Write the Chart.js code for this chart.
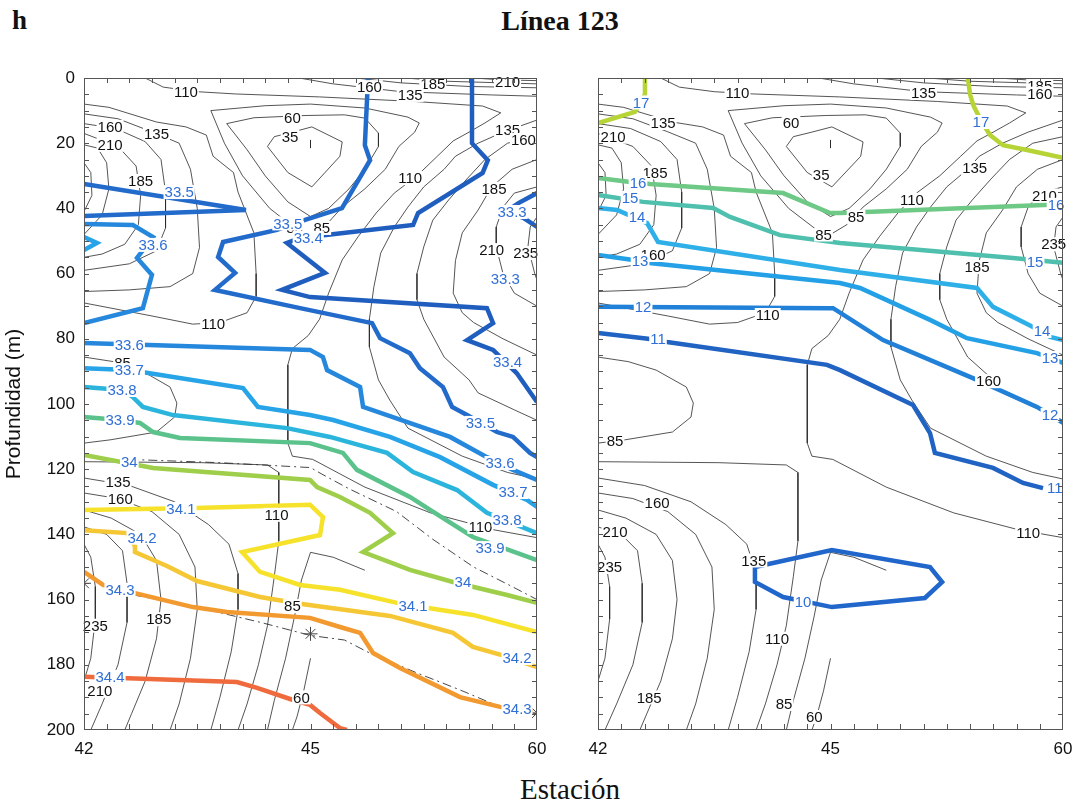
<!DOCTYPE html>
<html>
<head>
<meta charset="utf-8">
<script src="https://cdn.jsdelivr.net/npm/chart.js@4.4.1/dist/chart.umd.min.js"></script>
<style>
  body { margin: 0; background: #fff; width: 1078px; height: 808px; position: relative; overflow: hidden; }
  #panelL { position: absolute; left: 0; top: 60px; }
  #panelR { position: absolute; left: 560px; top: 60px; }
  .hd { position: absolute; font-family: "Liberation Serif", "DejaVu Serif", serif; color: #111; white-space: nowrap; }
</style>
</head>
<body>
<div class="hd" style="left:12px; top:5px; font-size:27px; font-weight:bold;">h</div>
<div class="hd" style="left:0; width:1120px; text-align:center; top:5px; font-size:28px; font-weight:bold;">Línea 123</div>
<div class="hd" style="left:0; width:1140px; text-align:center; top:773px; font-size:29px;">Estación</div>
<canvas id="panelL" width="550" height="710"></canvas>
<canvas id="panelR" width="518" height="710"></canvas>
<script>
// -----------------------------
// AXES (x = station index, y = depth in m)
// -----------------------------
const stations = ["42", "45", "60"];
const depthRange = [0, 200];

// -----------------------------
// SALINITY CONTOURS (left panel)  [station index, depth]
// -----------------------------
const sal333 = [[2,35.3],[1.92,38.3],[1.86,41.1],[1.94,42.9],[2,45.7],[1.75,58.9],[1.735,59.8],[1.85,61.3],[2,64.4]];
const sal334 = [[1.713,0],[1.713,20],[1.783,25.2],[1.76,29.1],[1.475,41.4],[1.453,45.1],[0.954,49.1],[0.896,50.6],[1.064,59.8],[0.874,65],[0.998,67.2],[1.779,70.6],[1.806,75.2],[1.691,80.4],[1.806,83.4],[1.91,90.5],[2,99.4]];
const sal335a = [[0,32.5],[0.715,40.5],[0,42.3]];
const sal335b = [[1.254,0],[1.24,20.6],[1.263,25.2],[1.139,39.9],[0.945,44.2],[0.852,46.6],[0.614,50.3],[0.592,54.9],[0.667,59.8],[0.578,65],[0.954,70.6],[1.272,75.2],[1.307,79.8],[1.439,84.4],[1.483,89],[1.585,94.8],[1.625,100.9],[1.691,103.4],[1.823,108.6],[1.894,110.1],[1.969,115],[2,116.3]];
const sal336a = [[0,44.8],[0.216,45.1],[0.305,48.8],[0.234,55.2],[0.3,60.4],[0.26,70.6],[0,75.2]];
const sal336b = [[0,81.3],[0.998,83.4],[1.055,85.6],[1.073,89.6],[1.219,94.8],[1.232,100.9],[1.616,110.1],[1.779,116.3],[1.894,120.2],[2,123.3]];
const sal337a = [[0,48.8],[0.057,50.6],[0,52.8]];
const sal337b = [[0,89],[0.2,89.6],[0.702,95.1],[0.768,100.9],[0.998,103.4],[1.1,104.9],[1.351,110.1],[1.572,116.3],[1.806,124.8],[1.956,129.4],[2,131.6]];
const sal338 = [[0,94.8],[0.168,95.7],[0.216,97.9],[0.26,100.9],[0.393,103.4],[0.896,107.4],[1.086,110.1],[1.338,115],[1.453,120.9],[1.647,126.4],[1.779,133.4],[2,139.6]];
const sal339 = [[0,104],[0.159,104.9],[0.247,105.8],[0.305,108.6],[0.424,110.4],[0.998,112],[1.143,115],[1.205,120.2],[1.439,128.5],[1.528,132.5],[1.717,140.8],[2,147.9]];
const sal340 = [[0,115.6],[0.305,119.6],[0.998,123.3],[1.029,125.5],[1.13,128.5],[1.263,133.4],[1.364,139.6],[1.232,145.4],[1.439,150.9],[1.629,154.6],[1.868,158.6],[2,161]];
const sal341 = [[0,132.5],[0.494,131.9],[0.998,130.9],[1.055,134.7],[1.042,140.2],[0.698,145.4],[0.777,151.5],[0.954,155.5],[1.13,157],[1.382,161],[1.519,162.6],[1.718,164.7],[2,170]];
const sal342 = [[0,138.7],[0.19,139.6],[0.225,143.6],[0.225,145.4],[0.366,149.7],[0.499,154.3],[0.777,159.2],[0.954,161.3],[1.351,165],[1.629,170.2],[1.717,174.5],[1.837,176.9],[2,180.7]];
const sal343 = [[0,151.5],[0.084,155.5],[0.225,158],[0.481,162.3],[0.631,163.8],[0.998,165.6],[1.13,168.4],[1.219,170.2],[1.276,176.4],[1.395,181],[1.66,189.9],[1.837,192.9],[1.982,194.5]];
const sal344 = [[0,183.7],[0.675,185.3],[0.764,187.1],[0.923,190.8],[0.998,192.3],[1.042,194.8],[1.13,199.4],[1.161,200]];

// -----------------------------
// TEMPERATURE CONTOURS (right panel)
// -----------------------------
const tmp17a = [[0.202,0],[0.202,5],[0.18,8],[0.159,10.4],[0,13.8]];
const tmp17b = [[1.591,0],[1.6,5],[1.615,8.5],[1.647,13],[1.686,17.5],[1.742,20.6],[1.845,22.1],[2,24.5]];
const tmp16 = [[0,30.7],[0.138,31.9],[0.224,32.5],[0.796,35.3],[0.998,41.4],[1.041,41.4],[2,38.7]];
const tmp15 = [[0,35.9],[0.194,38],[0.495,39.9],[0.568,42.6],[0.783,48.2],[1.041,50.6],[1.785,55.2],[2,56.7]];
const tmp14 = [[0,39.9],[0.082,40.5],[0.211,44.5],[0.258,50.3],[1.041,58.9],[1.63,64.4],[1.699,70.2],[1.871,76.4],[1.944,79.4],[2,80.4]];
const tmp13 = [[0,54.3],[0.151,55.8],[0.211,56.7],[1.041,62.9],[1.127,64.4],[1.428,74.2],[1.587,79.8],[1.888,84.4],[2,87.4]];
const tmp12 = [[0,70.2],[0.998,70.6],[1.011,70.6],[1.226,80.4],[1.63,92.6],[1.888,100.9],[2,105.8]];
const tmp11 = [[0,78.2],[0.215,80],[0.297,81],[0.985,88],[1.041,89.6],[1.355,100.3],[1.428,108.9],[1.449,115],[1.699,119.6],[1.828,124.2],[1.914,125.8]];
const tmp10 = [[0.675,150],[1.006,144.8],[1.428,150],[1.48,154.6],[1.406,159.5],[1.006,162.3],[0.796,159.2],[0.675,154.6],[0.675,150]];

// -----------------------------
// THIN BLACK CONTOURS (same field in both panels)
// -----------------------------
const iso110top = [[0.27,0],[0.35,2.8],[0.5,4.2],[0.67,4.9],[1.04,5.8],[1.46,7.2],[1.76,8.6],[1.84,10.7],[1.77,13.8],[1.7,16.6],[1.63,19.3],[1.56,24],[1.47,30],[1.37,35.3],[1.29,41.4],[1.21,48.7],[1.14,55.8],[1.08,66],[1.04,74],[0.99,79],[0.92,83],[0.9,88],[0.9,112],[0.92,116],[1.01,117],[1.24,125.5],[1.53,133.4],[1.81,138.6],[2,141]];
const iso135top = [[0.95,0],[1.1,1.8],[1.4,4.2],[1.8,5.2],[2,5.6]];
const iso160top = [[1.2,0],[1.4,1.5],[1.7,2.6],[2,3]];
const iso185top = [[1.42,0],[1.6,1],[2,1.8]];
const iso210top = [[1.72,0],[1.85,0.6],[2,0.8]];
const iso110w = [[0,8],[0.11,9],[0.32,13.5],[0.45,15],[0.54,17.5],[0.57,24],[0.66,29],[0.68,35],[0.75,47.5],[0.76,60],[0.76,67],[0.72,72],[0.6,75],[0.48,75.5],[0.3,73],[0.15,71],[0,69]];
const iso135w = [[0,11],[0.15,12.5],[0.3,16.5],[0.42,20],[0.47,28],[0.5,40],[0.51,52],[0.48,60],[0.38,64],[0.2,65],[0,65.5]];
const iso160w = [[0,14],[0.14,15.5],[0.27,19.5],[0.34,25],[0.36,35],[0.36,46],[0.32,53],[0.2,57],[0,59]];
const iso185w = [[0,17],[0.15,21],[0.23,27],[0.25,36],[0.24,45],[0.18,51],[0.08,54],[0,55]];
const iso210w = [[0,20.5],[0.06,21.5],[0.1,26],[0.11,34],[0.08,42],[0,48]];
const iso235w = [[0,26],[0.03,29],[0.035,36],[0,41]];
const iso35 = [[0.84,18],[0.92,16.6],[1.006,15],[1.14,19.6],[1.13,24],[1.006,33.4],[0.9,29],[0.81,21],[0.84,18]];
const iso35core = [[1.0,19],[1.0,21.5]];
const iso60 = [[0.63,14],[0.75,12.2],[0.98,11.5],[1.15,11.3],[1.24,12.3],[1.3,16.9],[1.3,21],[1.24,28],[1.17,34],[1.08,40],[1.0,42.5],[0.9,38],[0.8,30],[0.72,22],[0.63,14]];
const iso85 = [[0.56,10],[0.8,8.5],[1.0,8],[1.24,9.2],[1.43,12],[1.48,13.8],[1.46,16.6],[1.39,21],[1.33,28],[1.24,34],[1.14,39.6],[1.07,45],[1.0,48],[0.93,46],[0.82,40],[0.7,30],[0.62,20],[0.56,10]];
const iso135e = [[2,12.9],[1.85,16.6],[1.74,20],[1.64,24],[1.59,28],[1.5,33.4],[1.43,39.6],[1.37,45.7],[1.31,53.7],[1.28,64],[1.26,74],[1.26,82.5],[1.3,92.6],[1.35,98.8],[1.43,107.4],[1.67,116],[1.87,121],[2,123]];
const iso160e = [[2,18],[1.87,20],[1.77,25],[1.69,31],[1.61,37.4],[1.54,43.6],[1.5,51.8],[1.47,60],[1.47,68],[1.5,74],[1.59,85.6],[1.7,92.6],[1.74,96.6],[1.9,101.8],[2,105]];
const iso185e = [[2,25],[1.89,28],[1.8,33.4],[1.74,40.5],[1.67,47.5],[1.64,56],[1.63,66],[1.67,72],[1.72,75],[1.85,80],[2,85]];
const iso210e = [[2,33.4],[1.9,35.3],[1.85,39.6],[1.82,45.7],[1.82,51.8],[1.85,60],[1.9,66],[2,70]];
const iso235e = [[2,42.6],[1.97,45.7],[1.96,51.8],[1.99,60],[2,62]];
const iso85mid = [[0,85.6],[0.13,87],[0.25,89.6],[0.38,94.8],[0.41,99.7],[0.4,104],[0.32,108.6],[0.115,111],[0,112]];
const iso110b = [[0,117.7],[0.52,118],[0.81,118.7],[0.86,121],[0.86,142],[0.84,153],[0.81,168],[0.77,180],[0.72,192],[0.68,200]];
const iso135b = [[0,122.7],[0.2,125],[0.4,130],[0.55,137],[0.64,143],[0.68,152],[0.68,163],[0.65,176],[0.6,190],[0.56,200]];
const iso160b = [[0,127.3],[0.15,129],[0.3,133],[0.42,140],[0.49,150],[0.5,163],[0.47,178],[0.42,192],[0.38,200]];
const iso185b = [[0,132.5],[0.12,135],[0.25,140],[0.32,148],[0.34,160],[0.32,172],[0.27,185],[0.21,195],[0.18,200]];
const iso210b = [[0,137.7],[0.1,140],[0.17,145],[0.19,155],[0.19,167],[0.15,180],[0.08,192],[0.03,200]];
const iso235b = [[0,143],[0.03,147],[0.05,156],[0.05,166],[0.03,178],[0,185]];
const iso85b = [[1.24,151],[1.1,147],[1.0,145.5],[0.96,154],[0.93,165],[0.89,178],[0.84,191],[0.81,200]];
const iso60b = [[1.0,178],[0.97,188],[0.94,196],[0.92,200]];

// dash-dot lines and stars (left panel only)
const dashA = [[0.2,117],[0.6,118],[1.0,119.5],[1.05,121.5],[1.17,126],[1.38,133],[1.54,141.5],[1.72,150],[1.89,156],[2,160]];
const dashB = [[0.22,158.6],[0.48,162],[0.78,167],[1.0,171],[1.15,172.4],[1.25,176],[1.47,182.5],[1.66,187.7],[1.84,193],[2,195]];
const starPoints = [[0,155],[1.0,170.5],[2,194.8]];

// -----------------------------
// CONTOUR LABELS  [station index, depth, text]
// -----------------------------
const salLabels = [[0.42,35,"33.5"],[0.9,44.6,"33.5"],[0.99,49,"33.4"],[1.89,41.1,"33.3"],[1.86,61.7,"33.3"],[0.305,51.2,"33.6"],[1.87,87.1,"33.4"],
  [0.2,81.9,"33.6"],[0.2,89.6,"33.7"],[0.168,95.7,"33.8"],[0.159,104.9,"33.9"],[1.75,105.8,"33.5"],[1.837,118.1,"33.6"],[1.894,127,"33.7"],
  [1.868,135.6,"33.8"],[1.793,144.2,"33.9"],[0.2,117.8,"34"],[1.673,154.6,"34"],[0.428,132.2,"34.1"],[1.453,161.9,"34.1"],[0.256,141,"34.2"],
  [1.912,177.9,"34.2"],[0.159,157,"34.3"],[1.912,193.6,"34.3"],[0.115,183.7,"34.4"]];
const tmpLabels = [[0.185,7.5,"17"],[1.647,13.5,"17"],[0.172,32.2,"16"],[1.97,38.9,"16"],[0.138,36.8,"15"],[1.88,56.4,"15"],[0.168,42.6,"14"],
  [1.91,77.6,"14"],[0.181,56.1,"13"],[1.944,85.9,"13"],[0.194,70.2,"12"],[1.944,103.4,"12"],[0.258,80.1,"11"],[1.965,125.8,"11"],[0.882,160.7,"10"]];
const isoLabelsLeft = [[0.45,4.3,"110"],[1.26,2.8,"160"],[1.54,1.8,"185"],[1.44,5.2,"135"],[1.87,1.2,"210"],[0.92,12.3,"60"],[0.91,18.1,"35"],
  [0.115,15,"160"],[0.32,17,"135"],[0.115,20.5,"210"],[0.25,31.6,"185"],[1.87,16,"135"],[1.94,19,"160"],[1.44,30.7,"110"],[1.81,34,"185"],
  [0.93,46,"85"],[1.05,46,"85"],[1.8,52.8,"210"],[1.95,53.7,"235"],[0.57,75.3,"110"],[0.17,87.4,"85"],[0.15,124,"135"],[0.16,129,"160"],
  [0.85,134,"110"],[1.75,137.7,"110"],[0.05,168,"235"],[0.33,166,"185"],[0.92,162,"85"],[0.07,188,"210"],[0.96,190,"60"]];
const isoLabelsRight = [[0.6,4.6,"110"],[1.4,4.6,"135"],[1.9,2.3,"185"],[1.9,4.8,"160"],[0.83,13.8,"60"],[0.96,29.8,"35"],[0.28,13.8,"135"],
  [0.065,18,"210"],[0.245,29,"185"],[0.97,48,"85"],[1.11,42.6,"85"],[1.35,37.4,"110"],[1.62,27.6,"135"],[1.92,36,"210"],[1.96,51,"235"],
  [1.63,58,"185"],[0.237,54.3,"160"],[0.73,72.7,"110"],[1.68,93,"160"],[0.073,111.3,"85"],[0.254,130.4,"160"],[0.073,139.3,"210"],
  [1.85,139.6,"110"],[0.05,150,"235"],[0.67,148,"135"],[0.77,172,"110"],[0.22,190,"185"],[0.8,192,"85"],[0.93,196,"60"]];

// -----------------------------
// STYLES
// -----------------------------
const levelColors = {
  "33.3": "#2062c4", "33.4": "#1f5ebf", "33.5": "#226bcb", "33.6": "#2588dc", "33.7": "#27a3e8", "33.8": "#2cb5dc",
  "33.9": "#5bc28c", "34": "#9fce4a", "34.1": "#f7e22b", "34.2": "#f6c735", "34.3": "#f29a2f", "34.4": "#ef6b3d",
  "17": "#b7d436", "16": "#6dc985", "15": "#4fc0ae", "14": "#2fafe8", "13": "#24a0e6", "12": "#2180d7", "11": "#2063c2", "10": "#2166ca"
};
const labelBlue = "#2f6fd6";
const sansFont = '"Liberation Sans", Arial, sans-serif';

const salLines = [["33.3", sal333], ["33.4", sal334], ["33.5", sal335a], ["33.5", sal335b], ["33.6", sal336a], ["33.6", sal336b],
  ["33.7", sal337a], ["33.7", sal337b], ["33.8", sal338], ["33.9", sal339], ["34", sal340], ["34.1", sal341],
  ["34.2", sal342], ["34.3", sal343], ["34.4", sal344]];
const tmpLines = [["17", tmp17a], ["17", tmp17b], ["16", tmp16], ["15", tmp15], ["14", tmp14], ["13", tmp13],
  ["12", tmp12], ["11", tmp11], ["10", tmp10]];
const isoLines = [iso110top, iso135top, iso160top, iso185top, iso210top, iso110w, iso135w, iso160w, iso185w, iso210w, iso235w,
  iso35, iso35core, iso60, iso85, iso135e, iso160e, iso185e, iso210e, iso235e, iso85mid, iso110b, iso135b, iso160b,
  iso185b, iso210b, iso235b, iso85b, iso60b];

// -----------------------------
// HELPERS
// -----------------------------
function toXY(pts) {
  return pts.map(p => ({ x: p[0], y: p[1] }));
}

function lineSet(pts, color, width, order, dash) {
  return {
    type: "line",
    data: toXY(pts),
    borderColor: color,
    borderWidth: width,
    borderDash: dash || [],
    pointRadius: 0,
    fill: false,
    tension: 0,
    order: order,
    parsing: false
  };
}

function buildDatasets(colored, withExtras) {
  const sets = [];
  isoLines.forEach(pts => sets.push(lineSet(pts, "#2a2a2a", 0.8, 3)));
  if (withExtras) {
    sets.push(lineSet(dashA, "#333", 0.9, 3, [9, 4, 2, 4]));
    sets.push(lineSet(dashB, "#333", 0.9, 3, [9, 4, 2, 4]));
  }
  colored.forEach(([lvl, pts]) => sets.push(lineSet(pts, levelColors[lvl], 4.5, 1)));
  if (withExtras) {
    sets.push({
      type: "scatter",
      data: toXY(starPoints),
      pointStyle: "star",
      pointRadius: 7,
      borderColor: "#444",
      borderWidth: 1,
      backgroundColor: "transparent",
      order: 0
    });
  }
  return sets;
}

// labels (white box breaks the line) + frame with inward ticks
const contourDecor = {
  id: "contourDecor",
  afterDatasetsDraw(chart, args, opts) {
    const ctx = chart.ctx;
    const xs = chart.scales.x, ys = chart.scales.y;
    ctx.save();
    ctx.font = "15px " + sansFont;
    ctx.textAlign = "center";
    ctx.textBaseline = "middle";
    opts.groups.forEach(g => {
      g.items.forEach(([u, d, t]) => {
        const px = xs.getPixelForValue(u), py = ys.getPixelForValue(d);
        const w = ctx.measureText(t).width;
        ctx.fillStyle = "#fff";
        ctx.fillRect(px - w / 2 - 1, py - 7, w + 2, 14);
        ctx.fillStyle = g.color;
        ctx.fillText(t, px, py + 1);
      });
    });
    ctx.restore();
  },
  afterDraw(chart) {
    const ctx = chart.ctx;
    const a = chart.chartArea;
    const xs = chart.scales.x, ys = chart.scales.y;
    ctx.save();
    ctx.strokeStyle = "#555";
    ctx.lineWidth = 1;
    ctx.strokeRect(a.left + 0.5, a.top + 0.5, a.right - a.left - 1, a.bottom - a.top - 1);
    ctx.beginPath();
    for (let i = 1; i < 20; i++) {
      const px = Math.round(xs.getPixelForValue(i / 10)) + 0.5;
      ctx.moveTo(px, a.bottom); ctx.lineTo(px, a.bottom - 6);
      ctx.moveTo(px, a.top); ctx.lineTo(px, a.top + 5);
    }
    for (let d = 5; d < 200; d += 5) {
      const py = Math.round(ys.getPixelForValue(d)) + 0.5;
      ctx.moveTo(a.left, py); ctx.lineTo(a.left + 5, py);
      ctx.moveTo(a.right, py); ctx.lineTo(a.right - 5, py);
    }
    ctx.stroke();
    ctx.restore();
  }
};

function makeChart(canvasId, colored, labelGroups, isLeft) {
  return new Chart(document.getElementById(canvasId), {
    type: "scatter",
    data: { datasets: buildDatasets(colored, isLeft) },
    plugins: [contourDecor],
    options: {
      responsive: false,
      animation: false,
      events: [],
      layout: { padding: { top: 18, right: isLeft ? 13 : 15, bottom: 0, left: 0 } },
      plugins: {
        legend: { display: false },
        tooltip: { enabled: false },
        contourDecor: { groups: labelGroups }
      },
      scales: {
        x: {
          type: "linear",
          min: 0,
          max: stations.length - 1,
          grid: { display: false, drawTicks: false },
          border: { display: false },
          ticks: {
            stepSize: 1,
            padding: 9,
            color: "#111",
            font: { size: 17, family: sansFont },
            callback: v => stations[Math.round(v)]
          },
          afterFit: s => { s.height = 40; s.paddingLeft = 0; s.paddingRight = 0; }
        },
        y: {
          type: "linear",
          reverse: true,
          min: depthRange[0],
          max: depthRange[1],
          grid: { display: false, drawTicks: false },
          border: { display: false },
          ticks: {
            display: isLeft,
            stepSize: 20,
            padding: 9,
            color: "#111",
            font: { size: 17, family: sansFont }
          },
          title: {
            display: isLeft,
            text: "Profundidad (m)",
            color: "#111",
            font: { size: 21, family: sansFont },
            padding: { top: 2, bottom: 0 }
          },
          afterFit: s => { s.width = isLeft ? 84 : 38; s.paddingTop = 0; s.paddingBottom = 0; }
        }
      }
    }
  });
}

// -----------------------------
// DRAW BOTH PANELS
// -----------------------------
makeChart("panelL", salLines, [
  { items: isoLabelsLeft, color: "#111" },
  { items: salLabels, color: labelBlue }
], true);

makeChart("panelR", tmpLines, [
  { items: isoLabelsRight, color: "#111" },
  { items: tmpLabels, color: labelBlue }
], false);
</script>
</body>
</html>
